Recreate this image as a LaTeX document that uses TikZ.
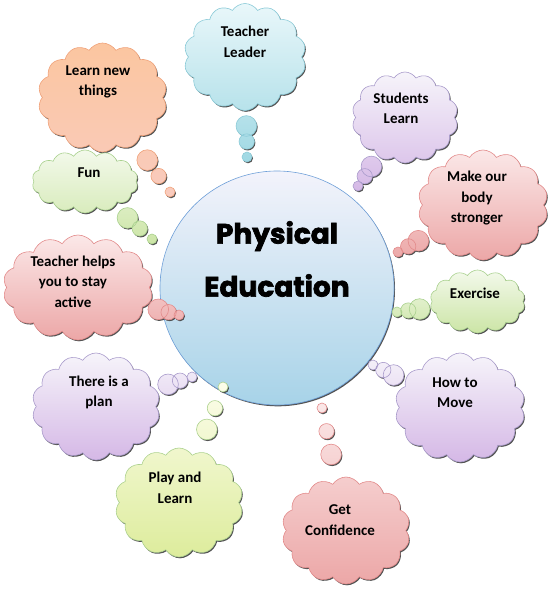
\documentclass[tikz,border=0pt]{standalone}
\usepackage{fontspec}
\setmainfont{Carlito}
\newfontfamily\titlefont{Poppins}[BoldFeatures={FakeBold=2.5}]
\usetikzlibrary{shapes.symbols,shapes.callouts,shadows}

\definecolor{circtop}{HTML}{F3F3FB}
\definecolor{circlo}{HTML}{A7D3E8}
\definecolor{circedge}{HTML}{6E9FD8}
\definecolor{cyantop}{HTML}{E9F7FA}
\definecolor{cyanlo}{HTML}{9FD8E3}
\definecolor{cyanedge}{HTML}{8CCBD8}
\definecolor{peachtop}{HTML}{FBC6A0}
\definecolor{peachlo}{HTML}{F9CBBE}
\definecolor{peachedge}{HTML}{F0A27A}
\definecolor{greentop}{HTML}{F3F9EB}
\definecolor{greenlo}{HTML}{CCE5A6}
\definecolor{greenedge}{HTML}{A9D18E}
\definecolor{pinktop}{HTML}{FBE8E8}
\definecolor{pinklo}{HTML}{ECA7A7}
\definecolor{pinkedge}{HTML}{E38B8B}
\definecolor{lilactop}{HTML}{F6F4FA}
\definecolor{lilaclo}{HTML}{D5B8E6}
\definecolor{lilacedge}{HTML}{A99BCB}
\definecolor{limetop}{HTML}{FCFDEB}
\definecolor{limelo}{HTML}{DDEC9C}
\definecolor{limeedge}{HTML}{ADD28F}

\begin{document}
\begin{tikzpicture}[x=1pt,y=-1pt,
    thought/.style={cloud callout, cloud puffs=14, cloud puff arc=115, cloud ignores aspect,
      inner sep=0pt, line width=0.6pt, callout pointer segments=3,
      callout pointer start size=30pt and 26pt, callout pointer end size=11pt and 10pt,
      drop shadow={shadow xshift=1pt, shadow yshift=-1.3pt, fill=black!75, opacity=0.9}},
    lbl/.style={font=\bfseries\fontsize{15}{20.5}\selectfont, align=center, inner sep=0pt}]
    \useasboundingbox (0,0) rectangle (551,589);

    % Centre
    \node (pe) [circle, minimum size=234pt, inner sep=0pt, line width=0.6pt,
        draw=circedge, top color=circtop, bottom color=circlo,
        drop shadow={shadow xshift=1pt, shadow yshift=-1.3pt, fill=black!75, opacity=0.9}] at (277,288) {};
    \node (title) [font=\titlefont\bfseries\fontsize{28}{53}\selectfont, align=center] at (277,259) {Physical\\Education};

    % Tips of the bubbles
    \coordinate (leader tip) at (247,157);
    \coordinate (things tip) at (170,192);
    \coordinate (fun tip) at (152,239);
    \coordinate (helps tip) at (179,315);
    \coordinate (plan tip) at (192,377);
    \coordinate (play tip) at (223,387);
    \coordinate (conf tip) at (322,408);
    \coordinate (move tip) at (373,365);
    \coordinate (exer tip) at (397,312);
    \coordinate (strong tip) at (398,252);
    \coordinate (stud tip) at (358,186);

    % Clouds
    \node (leader) [thought, minimum width=122pt, minimum height=107pt, draw=cyanedge,
        top color=cyantop, bottom color=cyanlo, callout absolute pointer=(leader tip),
        label={[lbl, yshift=15pt]center:{Teacher\\Leader}}] at (245,57) {};
    \node (things) [thought, minimum width=129pt, minimum height=109pt, draw=peachedge,
        top color=peachtop, bottom color=peachlo, callout absolute pointer=(things tip),
        label={[lbl, xshift=-4.5pt, yshift=15.5pt]center:{Learn new\\things}}] at (102.5,97.5) {};
    \node (fun) [thought, minimum width=106pt, minimum height=63pt, draw=greenedge,
        top color=greentop, bottom color=greenlo, callout absolute pointer=(fun tip),
        label={[lbl, xshift=4pt, yshift=8.5pt]center:Fun}] at (85,181.5) {};
    \node (helps) [thought, minimum width=150pt, minimum height=105pt, draw=pinkedge,
        top color=pinktop, bottom color=pinklo, callout absolute pointer=(helps tip),
        label={[lbl, xshift=-5pt, yshift=6pt]center:{Teacher helps\\you to stay\\active}}] at (78,287.5) {};
    \node (plan) [thought, minimum width=128pt, minimum height=107pt, draw=lilacedge,
        top color=lilactop, bottom color=lilaclo, callout absolute pointer=(plan tip),
        label={[lbl, xshift=3pt, yshift=14pt]center:{There is a\\plan}}] at (96,406.5) {};
    \node (play) [thought, minimum width=128pt, minimum height=109pt, draw=limeedge,
        top color=limetop, bottom color=limelo, callout absolute pointer=(play tip),
        label={[lbl, xshift=-4pt, yshift=14.5pt]center:{Play and\\Learn}}] at (179,502.5) {};
    \node (conf) [thought, minimum width=128pt, minimum height=107pt, draw=pinkedge,
        top color=pinktop, bottom color=pinklo, callout absolute pointer=(conf tip),
        label={[lbl, xshift=-6pt, yshift=10.5pt]center:{Get\\Confidence}}] at (346,530.5) {};
    \node (move) [thought, minimum width=130pt, minimum height=109pt, draw=lilacedge,
        top color=lilactop, bottom color=lilaclo, callout absolute pointer=(move tip),
        label={[lbl, xshift=-5pt, yshift=15pt]center:{How to\\Move}}] at (460,407.5) {};
    \node (exer) [thought, minimum width=95pt, minimum height=63pt, draw=greenedge,
        top color=greentop, bottom color=greenlo, callout absolute pointer=(exer tip),
        label={[lbl, xshift=-2.5pt, yshift=8.5pt]center:Exercise}] at (477.5,301.5) {};
    \node (strong) [thought, minimum width=130pt, minimum height=110pt, draw=pinkedge,
        top color=pinktop, bottom color=pinklo, callout absolute pointer=(strong tip),
        label={[lbl, xshift=-6pt, yshift=6.5pt]center:{Make our\\body\\stronger}}] at (483,205) {};
    \node (stud) [thought, minimum width=106pt, minimum height=91pt, draw=lilacedge,
        top color=lilactop, bottom color=lilaclo, callout absolute pointer=(stud tip),
        label={[lbl, xshift=-4pt, yshift=9pt]center:{Students\\Learn}}] at (405,117.5) {};

\end{tikzpicture}
\end{document}
